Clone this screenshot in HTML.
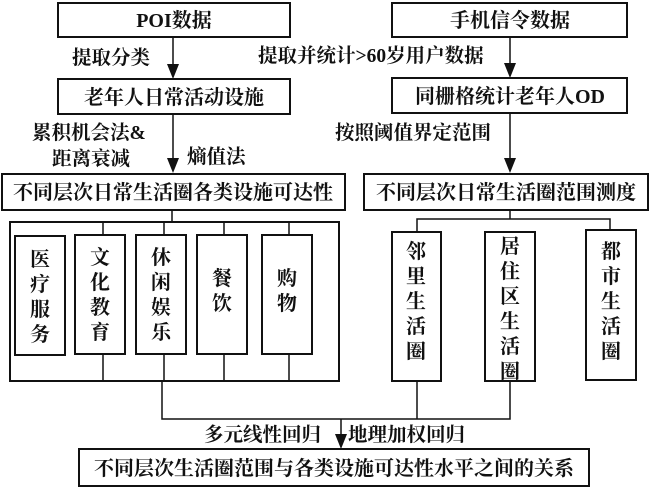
<!DOCTYPE html>
<html><head><meta charset="utf-8"><style>
html,body{margin:0;padding:0;background:#fff;}
svg{display:block;}
text{font-family:"Liberation Serif","Noto Serif CJK SC",serif;font-weight:bold;fill:#111;}
.b{font-size:20px;}
.l{font-size:19.5px;}
</style></head><body>
<svg width="650" height="489" viewBox="0 0 650 489" xmlns="http://www.w3.org/2000/svg">
<g fill="none" stroke="#111" stroke-width="2">
<rect x="58" y="3" width="232" height="34"/>
<rect x="58" y="79" width="232" height="35"/>
<rect x="392" y="3" width="235" height="34"/>
<rect x="392" y="78" width="235" height="35"/>
<rect x="2" y="174" width="343" height="36"/>
<rect x="364" y="174" width="284" height="36"/>
<rect x="10" y="222" width="329" height="159"/>
<rect x="15" y="236" width="50" height="119"/>
<rect x="75" y="235" width="50" height="119"/>
<rect x="136" y="235" width="50" height="119"/>
<rect x="197" y="235" width="50" height="119"/>
<rect x="262" y="235" width="50" height="119"/>
<rect x="392" y="232" width="49" height="149"/>
<rect x="485" y="232" width="50" height="149"/>
<rect x="586" y="230" width="50" height="150"/>
<rect x="79" y="449" width="510" height="37"/>
</g>
<g stroke="#111" stroke-width="1.5" fill="none">
<line x1="173" y1="37" x2="173" y2="66"/>
<line x1="173" y1="114" x2="173" y2="160"/>
<line x1="510" y1="37" x2="510" y2="66"/>
<line x1="510" y1="113" x2="510" y2="160"/>
<line x1="172" y1="210" x2="172" y2="222"/>
<line x1="103" y1="222" x2="103" y2="235"/><line x1="164" y1="222" x2="164" y2="235"/><line x1="224" y1="222" x2="224" y2="235"/><line x1="289" y1="222" x2="289" y2="235"/>
<line x1="103" y1="354" x2="103" y2="381"/><line x1="164" y1="354" x2="164" y2="381"/><line x1="224" y1="354" x2="224" y2="381"/><line x1="289" y1="354" x2="289" y2="381"/>
<polyline points="162,381 162,419 510,419 510,381"/>
<line x1="417" y1="381" x2="417" y2="419"/>
<line x1="341" y1="419" x2="341" y2="437"/>
<line x1="510" y1="210" x2="510" y2="219"/>
<polyline points="417,232 417,219 610,219 610,230"/>
</g>
<g fill="#111">
<polygon points="167,64 179,64 173,79"/>
<polygon points="167,158 179,158 173,173"/>
<polygon points="504,63 516,63 510,78"/>
<polygon points="504,158 516,158 510,173"/>
<polygon points="335,434 347,434 341,449"/>
</g>
<g class="b" text-anchor="middle">
<text x="174" y="27">POI数据</text>
<text x="174" y="104">老年人日常活动设施</text>
<text x="510" y="27">手机信令数据</text>
<text x="510" y="103">同栅格统计老年人OD</text>
<text x="173" y="199">不同层次日常生活圈各类设施可达性</text>
<text x="506" y="199">不同层次日常生活圈范围测度</text>
<text x="334" y="475">不同层次生活圈范围与各类设施可达性水平之间的关系</text>
</g>
<g class="l">
<text x="72" y="64">提取分类</text>
<text x="32" y="139">累积机会法&amp;</text>
<text x="52" y="165">距离衰减</text>
<text x="187" y="163">熵值法</text>
<text x="258" y="62">提取并统计&gt;60岁用户数据</text>
<text x="335" y="139">按照阈值界定范围</text>
<text x="204" y="441">多元线性回归</text>
<text x="348" y="441">地理加权回归</text>
</g>
<g class="b" text-anchor="middle">
<text x="40" y="266">医</text><text x="40" y="291">疗</text><text x="40" y="316">服</text><text x="40" y="341">务</text>
<text x="100" y="264">文</text><text x="100" y="289">化</text><text x="100" y="314">教</text><text x="100" y="339">育</text>
<text x="161" y="264">休</text><text x="161" y="289">闲</text><text x="161" y="314">娱</text><text x="161" y="339">乐</text>
<text x="222" y="285">餐</text><text x="222" y="310">饮</text>
<text x="287" y="285">购</text><text x="287" y="310">物</text>
<text x="416" y="258">邻</text><text x="416" y="283">里</text><text x="416" y="308">生</text><text x="416" y="333">活</text><text x="416" y="358">圈</text>
<text x="510" y="253">居</text><text x="510" y="278">住</text><text x="510" y="303">区</text><text x="510" y="328">生</text><text x="510" y="353">活</text><text x="510" y="378">圈</text>
<text x="611" y="258">都</text><text x="611" y="283">市</text><text x="611" y="308">生</text><text x="611" y="333">活</text><text x="611" y="358">圈</text>
</g>
</svg>
</body></html>
